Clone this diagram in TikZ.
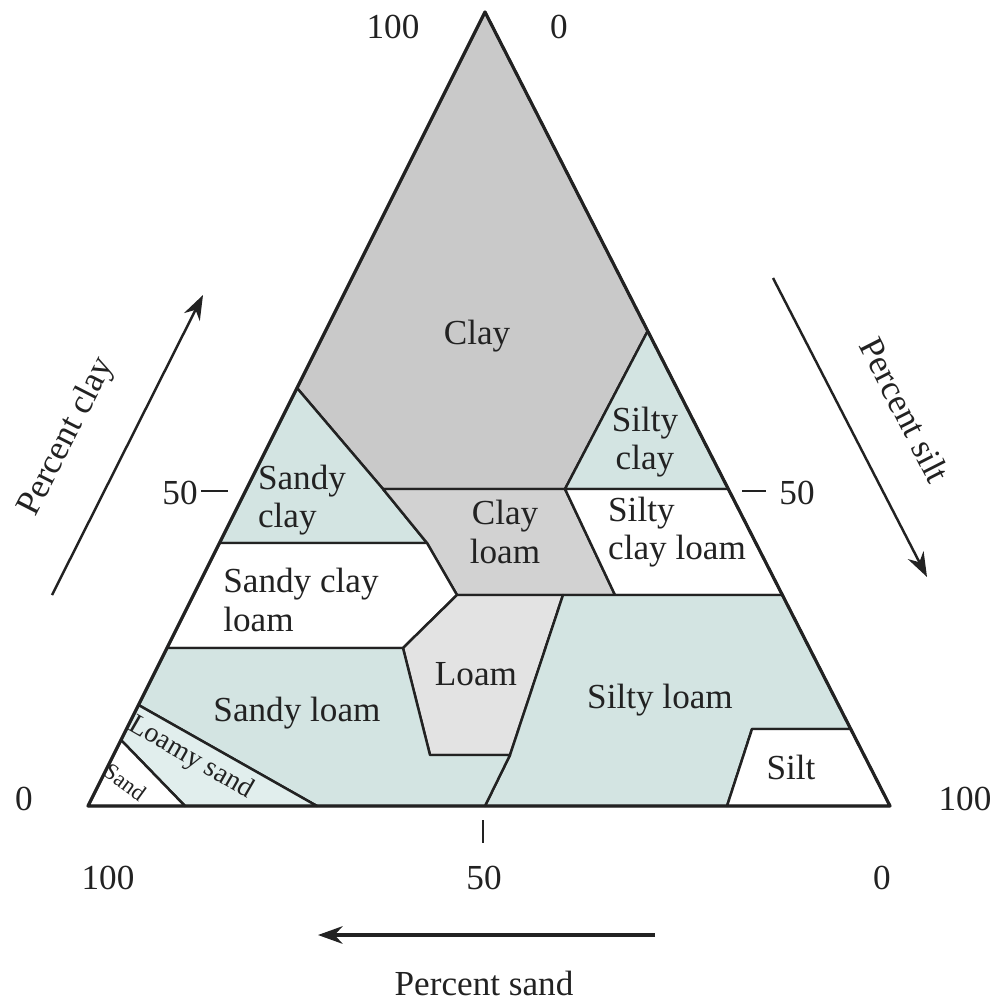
\documentclass[tikz,border=0pt]{standalone}
\usepackage{fontspec}
\setmainfont{Liberation Serif}
\usetikzlibrary{arrows.meta}
\definecolor{tealfill}{HTML}{D3E4E2}
\definecolor{lighttealfill}{HTML}{E1EEED}
\definecolor{clayfill}{HTML}{C9C9C9}
\definecolor{clayloamfill}{HTML}{D2D2D2}
\definecolor{loamfill}{HTML}{E3E3E3}
\definecolor{ink}{HTML}{222222}
\begin{document}
\begin{tikzpicture}[x=0.01cm,y=-0.01cm,
  region/.style={draw=ink, line width=0.7pt, line join=round},
  lbl/.style={font=\fontsize{10}{11}\selectfont, text=ink, inner sep=0pt, align=center},
  lbll/.style={font=\fontsize{10}{11}\selectfont, text=ink, inner sep=0pt, align=left},
  num/.style={font=\fontsize{10}{12}\selectfont, text=ink, inner sep=0pt},
  axarrow/.style={draw=ink, line width=0.7pt, -{Stealth[length=7pt,width=5pt]}},
  tick/.style={draw=ink, line width=0.6pt}]
\useasboundingbox (0,0) rectangle (996,1000);
% vertices (edge points placed exactly on the triangle's sides)
\coordinate (A) at (485,12);
\coordinate (L) at (88,806);
\coordinate (R) at (890,806);
\coordinate (c1) at (297,388);
\coordinate (c2) at (647.7,331);
\coordinate (p1) at (383,489);
\coordinate (p2) at (565,489);
\coordinate (p3) at (728.3,489);
\coordinate (p0) at (427,543);
\coordinate (q0) at (219.5,543);
\coordinate (p4) at (457,595);
\coordinate (p5) at (563,595);
\coordinate (p6) at (615,595);
\coordinate (p7) at (782.4,595);
\coordinate (p8) at (403,648);
\coordinate (q1) at (167,648);
\coordinate (p9) at (430,755);
\coordinate (p10) at (510,755);
\coordinate (b1) at (485,806);
\coordinate (s1) at (752,729);
\coordinate (s2) at (850.7,729);
\coordinate (s3) at (727,806);
\coordinate (ls1) at (138.5,705);
\coordinate (ls2) at (317,806);
\coordinate (sd1) at (121,740);
\coordinate (sd2) at (185,806);
% regions
\path[region, fill=clayfill] (A) -- (c1) -- (p1) -- (p2) -- (c2) -- cycle;
\path[region, fill=tealfill] (c1) -- (p1) -- (p0) -- (q0) -- cycle;
\path[region, fill=tealfill] (c2) -- (p2) -- (p3) -- cycle;
\path[region, fill=clayloamfill] (p1) -- (p2) -- (p6) -- (p4) -- (p0) -- cycle;
\path[region, fill=white] (p2) -- (p3) -- (p7) -- (p6) -- cycle;
\path[region, fill=white] (q0) -- (p0) -- (p4) -- (p8) -- (q1) -- cycle;
\path[region, fill=loamfill] (p4) -- (p5) -- (p10) -- (p9) -- (p8) -- cycle;
\path[region, fill=tealfill] (p5) -- (p7) -- (s2) -- (s1) -- (s3) -- (b1) -- (p10) -- cycle;
\path[region, fill=white] (s1) -- (s2) -- (R) -- (s3) -- cycle;
\path[region, fill=tealfill] (q1) -- (p8) -- (p9) -- (p10) -- (b1) -- (ls2) -- (ls1) -- cycle;
\path[region, fill=lighttealfill] (ls1) -- (ls2) -- (sd2) -- (sd1) -- cycle;
\path[region, fill=white] (sd1) -- (sd2) -- (L) -- cycle;
\draw[draw=ink, line width=0.9pt, line join=round] (A) -- (L) -- (R) -- cycle;
% region labels
\node[lbl] (tclay) at (477,336) {Clay};
\node[lbll] (tsandyclay) at (302,500) {Sandy\\clay};
\node[lbl] (tsiltyclay) at (645,442) {Silty\\clay};
\node[lbl] (tclayloam) at (505,532) {Clay\\loam};
\node[lbll] (tsiltyclayloam) at (677,532) {Silty\\clay loam};
\node[lbll] (tsandyclayloam) at (301,600) {Sandy clay\\loam};
\node[lbl] (tloam) at (476,674) {Loam};
\node[lbl] (tsandyloam) at (297,713) {Sandy loam};
\node[lbl] (tsiltyloam) at (660,700) {Silty loam};
\node[lbl] (tsilt) at (791,767) {Silt};
\node[lbl, font=\fontsize{8}{9}\selectfont, rotate=-30] (tloamysand) at (191,758) {Loamy sand};
\node[lbl, font=\fontsize{6.5}{7}\selectfont, rotate=-36] (tsand) at (125,782) {Sand};
% scale numbers
\node[num] (n100t) at (393,27) {100};
\node[num] (n0t) at (559,27) {0};
\node[num] (n50l) at (180,493) {50};
\node[num] (n50r) at (797,493) {50};
\node[num] (n0l) at (24,799) {0};
\node[num] (n100r) at (965,799) {100};
\node[num] (n100b) at (108,878) {100};
\node[num] (n50b) at (484,878) {50};
\node[num] (n0b) at (882,878) {0};
\coordinate (tl1) at (201,491); \coordinate (tl2) at (228,491);
\coordinate (tr1) at (742,491); \coordinate (tr2) at (766,491);
\coordinate (tb1) at (483,820); \coordinate (tb2) at (483,843);
\draw[tick] (tl1) -- (tl2);
\draw[tick] (tr1) -- (tr2);
\draw[tick] (tb1) -- (tb2);
% axis arrows
\coordinate (la1) at (52,595); \coordinate (la2) at (203,295);
\coordinate (ra1) at (773,278); \coordinate (ra2) at (927,577);
\coordinate (ba1) at (655,935); \coordinate (ba2) at (318,935);
\draw[axarrow] (la1) -- (la2);
\draw[axarrow] (ra1) -- (ra2);
\draw[axarrow, line width=0.9pt] (ba1) -- (ba2);
\node[num, rotate=63] (tpclay) at (67,437) {Percent clay};
\node[num, rotate=-63] (tpsilt) at (905,410) {Percent silt};
\node[num] (tpsand) at (484,983) {Percent sand};
\end{tikzpicture}
\end{document}
